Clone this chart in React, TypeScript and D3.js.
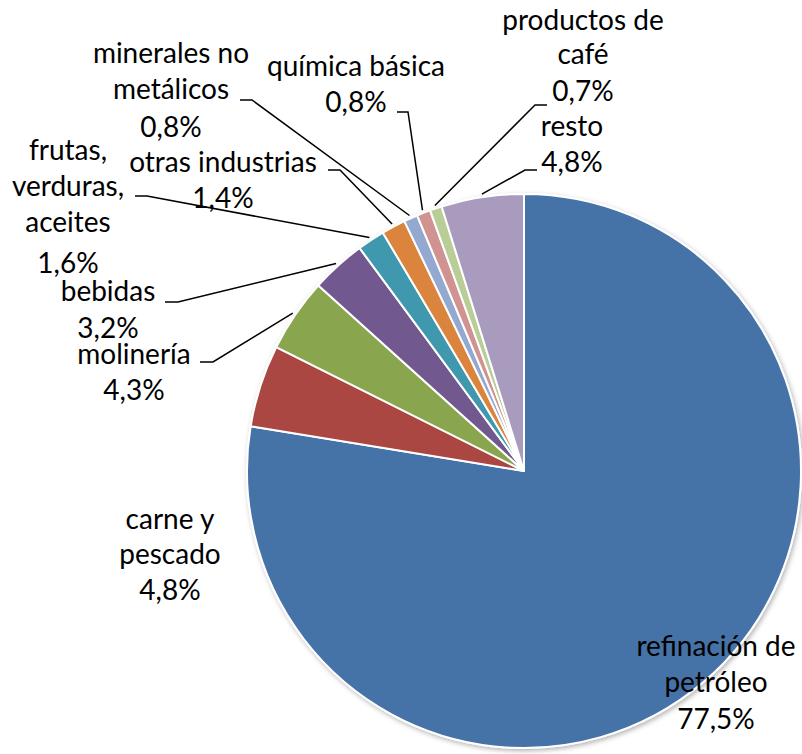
import React from "react";
import { pie, arc } from "d3";

// shares of industrial output, clockwise from 12 o'clock
const categories = [
  "refinación de petróleo",
  "carne y pescado",
  "molinería",
  "bebidas",
  "frutas, verduras, aceites",
  "otras industrias",
  "minerales no metálicos",
  "química básica",
  "productos de café",
  "resto",
];
const shares = [77.5, 4.8, 4.3, 3.2, 1.6, 1.4, 0.8, 0.8, 0.7, 4.8];
const shareLabels = ["77,5%", "4,8%", "4,3%", "3,2%", "1,6%", "1,4%", "0,8%", "0,8%", "0,7%", "4,8%"];

const colors = [
  "#4572A7", "#AA4643", "#89A54E", "#71588F", "#4198AF",
  "#DB843D", "#93A9CF", "#D19392", "#B9CD96", "#A99BBD",
];

// hand placed label boxes (Excel style): text lines, centre x, baselines, and the leader tick
type LabelLayout = {
  lines: string[];
  x: number;
  ys: number[];
  tick?: { x1: number; x2: number; y: number; from: "x1" | "x2" };
};

const labelLayout: LabelLayout[] = [
  { lines: ["refinación de", "petróleo"], x: 716, ys: [656, 692, 729] },
  { lines: ["carne y", "pescado"], x: 170, ys: [529, 564, 600] },
  { lines: ["molinería"], x: 134, ys: [364, 400], tick: { x1: 200, x2: 213, y: 362, from: "x2" } },
  { lines: ["bebidas"], x: 108, ys: [301, 338], tick: { x1: 165, x2: 178, y: 302, from: "x2" } },
  { lines: ["frutas,", "verduras,", "aceites"], x: 68, ys: [160, 196, 232, 273], tick: { x1: 135, x2: 147, y: 196, from: "x2" } },
  { lines: ["otras industrias"], x: 223, ys: [172, 208], tick: { x1: 328, x2: 340, y: 170, from: "x2" } },
  { lines: ["minerales no", "metálicos"], x: 171, ys: [63, 99, 137], tick: { x1: 240, x2: 252, y: 100, from: "x2" } },
  { lines: ["química básica"], x: 356, ys: [76, 112], tick: { x1: 397, x2: 408, y: 112, from: "x2" } },
  { lines: ["productos de", "café"], x: 583, ys: [30, 64, 101], tick: { x1: 535, x2: 547, y: 105, from: "x1" } },
  { lines: ["resto"], x: 572, ys: [136, 172], tick: { x1: 525, x2: 537, y: 170, from: "x1" } },
];

export default function App() {
  const width = 802;
  const height = 754;
  const cx = 524;
  const cy = 471;
  const radius = 277;

  const data = categories.map((name, i) => ({ name, value: shares[i], label: shareLabels[i] }));
  const slices = pie<any>().sort(null).value((d) => d.value)(data);
  const arcGen = arc<any>().innerRadius(0).outerRadius(radius);

  const edgePoint = (s: any) => {
    const a = (s.startAngle + s.endAngle) / 2;
    const r = radius + 3;
    return [cx + r * Math.sin(a), cy - r * Math.cos(a)];
  };

  return (
    <svg
      width={width}
      height={height}
      style={{ position: "absolute", left: 0, top: 0, background: "#fff" }}
      fontFamily="Lato, 'DejaVu Sans', sans-serif"
    >
      <defs>
        <filter id="shadow" x="-10%" y="-10%" width="120%" height="120%">
          <feDropShadow dx="1.5" dy="2" stdDeviation="2.5" floodColor="#000" floodOpacity="0.3" />
        </filter>
      </defs>
      <g transform={`translate(${cx},${cy})`} filter="url(#shadow)">
        {slices.map((s, i) => (
          <path key={i} d={arcGen(s) || ""} fill={colors[i]} stroke="#fff" strokeWidth={2} strokeLinejoin="round" />
        ))}
      </g>
      {slices.map((s, i) => {
        const lay = labelLayout[i];
        const all = [...lay.lines, s.data.label];
        let leader = null;
        if (lay.tick) {
          const t = lay.tick;
          const [ex, ey] = edgePoint(s);
          const sx = t.from === "x1" ? t.x1 : t.x2;
          const ox = t.from === "x1" ? t.x2 : t.x1;
          leader = (
            <polyline
              points={`${ox},${t.y} ${sx},${t.y} ${ex},${ey}`}
              fill="none"
              stroke="#000"
              strokeWidth={1.5}
            />
          );
        }
        return (
          <g key={`lab${i}`}>
            {leader}
            {all.map((line, j) => (
              <text key={j} x={lay.x} y={lay.ys[j]} textAnchor="middle" fontSize={28} fill="#000">
                {line}
              </text>
            ))}
          </g>
        );
      })}
    </svg>
  );
}
